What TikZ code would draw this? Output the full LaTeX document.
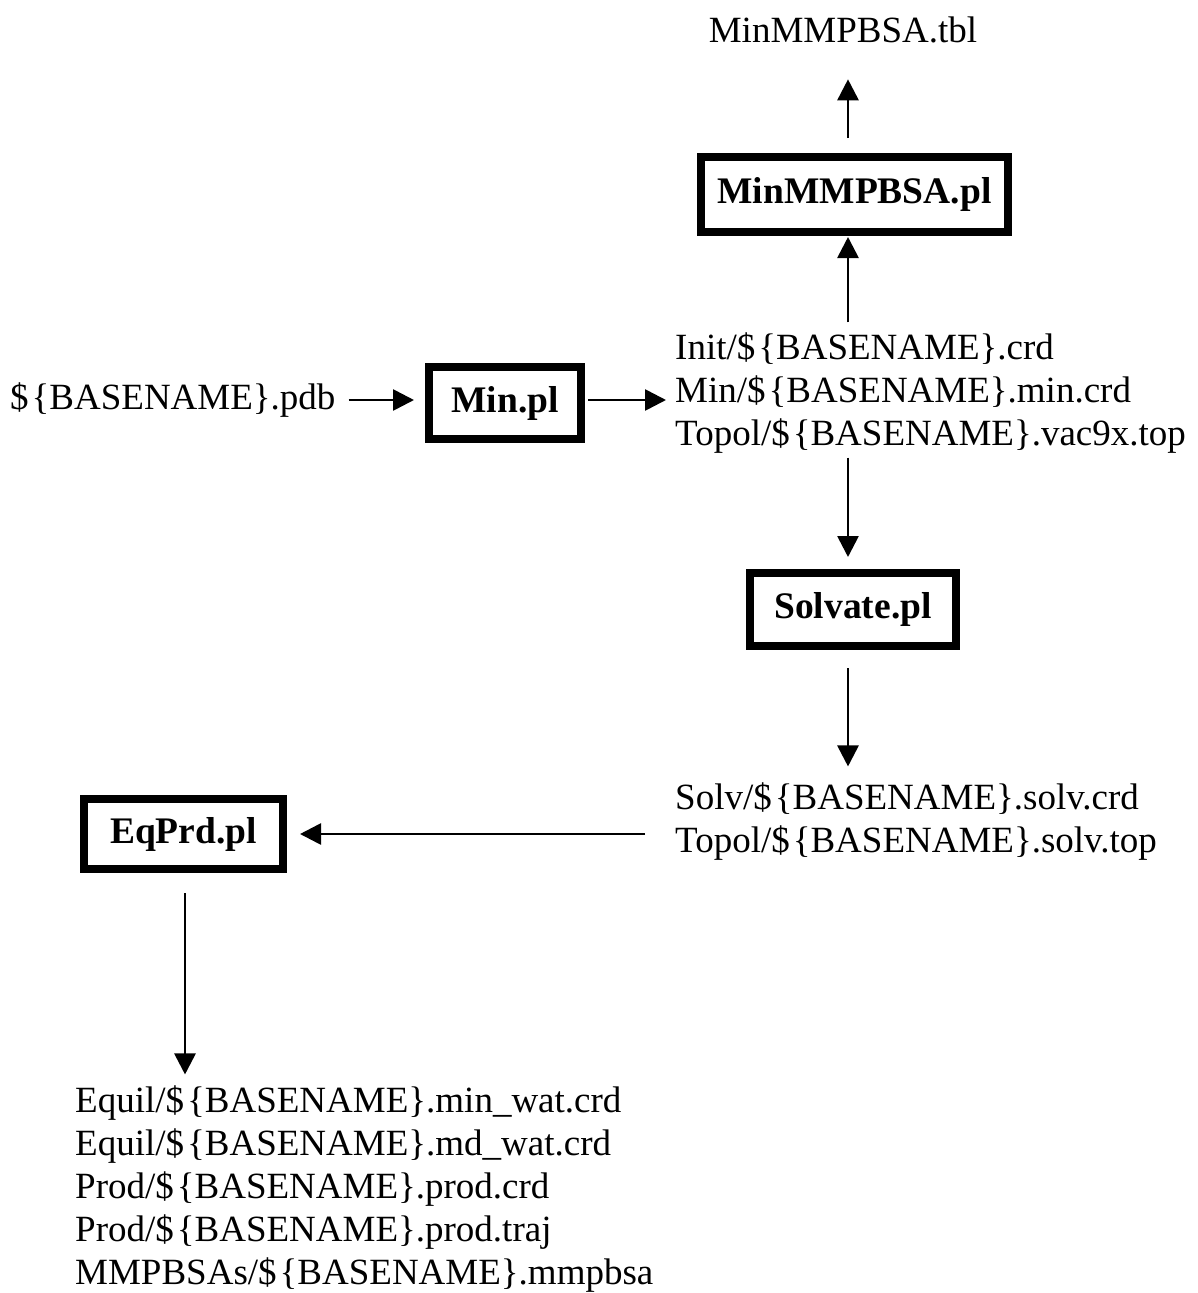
\documentclass[tikz,border=0pt]{standalone}
\usepackage{fontspec}
\setmainfont{Liberation Serif}
\usetikzlibrary{arrows.meta}
\newcommand{\BN}{\$\kern3pt\{BASENAME\}}
\begin{document}
\begin{tikzpicture}[x=1pt,y=-1pt,
  every node/.style={font=\fontsize{37}{43}\selectfont},
  prog/.style={draw=black,line width=8pt,font=\fontsize{37.5}{43}\selectfont\bfseries,inner sep=0pt,fill=white},
  files/.style={anchor=west,align=left,inner sep=0pt},
  arr/.style={line width=2.7pt,-{Triangle[length=21pt,width=21pt]}}]
\useasboundingbox (0,0) rectangle (1198,1293);
\coordinate (colA) at (848,0);
\coordinate (colB) at (185,0);
\node[inner sep=0pt] (tbl) at (843,30) {MinMMPBSA.tbl};
\node[prog,minimum width=307pt,minimum height=75pt] (minmm) at (854.5,194.5) {MinMMPBSA.pl};
\node[files] (blk1) at (675,393) {Init/\BN.crd\\Min/\BN.min.crd\\Topol/\BN.vac9x.top};
\node[inner sep=0pt,anchor=west] (pdb) at (10,400) {\BN.pdb};
\node[prog,minimum width=152pt,minimum height=72pt] (minpl) at (505,403) {Min.pl};
\node[prog,minimum width=206pt,minimum height=73pt] (solv) at (853,609.5) {Solvate.pl};
\node[files] (blk2) at (675,821.5) {Solv/\BN.solv.crd\\Topol/\BN.solv.top};
\node[prog,minimum width=199pt,minimum height=70pt] (eqprd) at (183.5,834) {EqPrd.pl};
\node[files] (blk3) at (75,1189) {Equil/\BN.min\_wat.crd\\Equil/\BN.md\_wat.crd\\Prod/\BN.prod.crd\\Prod/\BN.prod.traj\\MMPBSAs/\BN.mmpbsa};
% connectors
\draw[arr,shorten <=13pt,shorten >=11pt] (pdb.east) -- (pdb.east -| minpl.west);
\draw[arr,shorten <=3pt,shorten >=9pt] (minpl.east |- pdb.east) -- (pdb.east -| blk1.west);
\draw[arr,shorten <=10pt,shorten >=1pt] (blk1.north -| colA) -- (minmm.south -| colA);
\draw[arr,shorten <=15pt,shorten >=36pt] (minmm.north -| colA) -- (tbl.south -| colA);
\draw[arr,shorten <=4pt,shorten >=12pt] (blk1.south -| colA) -- (solv.north -| colA);
\draw[arr,shorten <=18pt,shorten >=16pt] (solv.south -| colA) -- (blk2.north -| colA);
\draw[arr,shorten <=30pt,shorten >=13pt] (blk2.west |- eqprd.east) -- (eqprd.east);
\draw[arr,shorten <=20pt,shorten >=11pt] (eqprd.south -| colB) -- (blk3.north -| colB);
\end{tikzpicture}
\end{document}
